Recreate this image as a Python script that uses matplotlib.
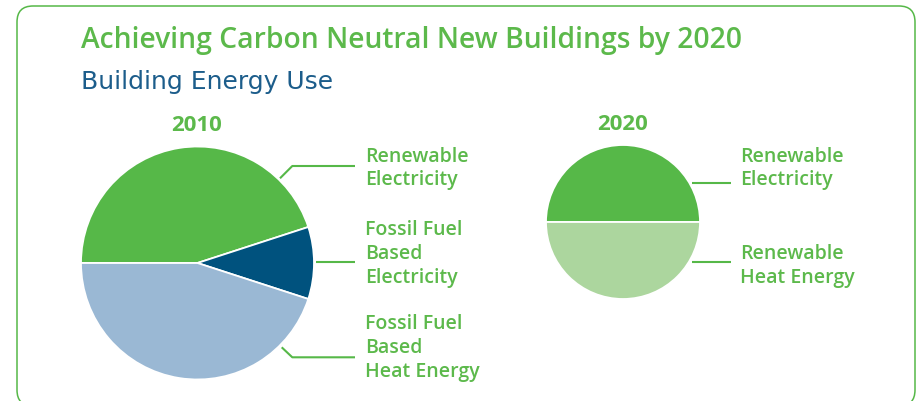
import matplotlib
matplotlib.use("Agg")
import matplotlib.pyplot as plt
from matplotlib.patches import FancyBboxPatch

# ---- data ----
title = "Achieving Carbon Neutral New Buildings by 2020"
subtitle = "Building Energy Use"
years = ["2010", "2020"]
labels_2010 = ["Renewable\nElectricity", "Fossil Fuel\nBased\nElectricity", "Fossil Fuel\nBased\nHeat Energy"]
values_2010 = [45, 10, 45]
labels_2020 = ["Renewable\nElectricity", "Renewable\nHeat Energy"]
values_2020 = [50, 50]

GREEN = "#56b848"
TEXT_GREEN = "#5cb94b"
DARK_BLUE = "#00527e"
LIGHT_BLUE = "#9ab8d4"
LIGHT_GREEN = "#acd69e"
SUB_BLUE = "#1c5d8b"
colors_2010 = [GREEN, DARK_BLUE, LIGHT_BLUE]
colors_2020 = [GREEN, LIGHT_GREEN]

W, H = 920, 401
FONT = "Open Sans"
WIDE = "DejaVu Sans"

fig = plt.figure(figsize=(W / 100, H / 100), dpi=100)
ax = fig.add_axes([0, 0, 1, 1])

def Y(y):  # pixel-from-top -> data
    return H - y

ax.pie(values_2010, colors=colors_2010, startangle=180, counterclock=False,
       center=(197.5, Y(263)), radius=116.5,
       wedgeprops=dict(edgecolor="white", linewidth=1.3))
ax.pie(values_2020, colors=colors_2020, startangle=180, counterclock=False,
       center=(623, Y(222)), radius=77,
       wedgeprops=dict(edgecolor="white", linewidth=1.3))

ax.set_xlim(0, W)
ax.set_ylim(0, H)
ax.set_aspect("auto")
ax.axis("off")

# border (bottom edge runs just past the image)
box = FancyBboxPatch((17, Y(406)), 915 - 17, 406 - 6,
                     boxstyle="round,pad=0,rounding_size=16",
                     fill=False, edgecolor=GREEN, linewidth=1.1, clip_on=False)
ax.add_patch(box)

# titles
ax.text(81, Y(47.7), title, color=TEXT_GREEN, fontsize=20.3, fontweight="semibold",
        family=FONT, va="baseline", ha="left")
ax.text(81, Y(89.5), subtitle, color=SUB_BLUE, fontsize=18,
        family=WIDE, va="baseline", ha="left")
ax.text(197, Y(131), years[0], color=TEXT_GREEN, fontsize=16, fontweight="bold",
        family=FONT, va="baseline", ha="center")
ax.text(622.5, Y(129.5), years[1], color=TEXT_GREEN, fontsize=16, fontweight="bold",
        family=FONT, va="baseline", ha="center")

LS = 23.8
def label(x, y0, txt):
    for i, line in enumerate(txt.split("\n")):
        ax.text(x, Y(y0 + i * LS), line, color=TEXT_GREEN, fontsize=14.0,
                fontweight="semibold", family=FONT, va="baseline", ha="left")

label(365, 161.5, labels_2010[0])
label(365, 235, labels_2010[1])
label(365, 329.3, labels_2010[2])
label(740.5, 161.5, labels_2020[0])
label(740.5, 259, labels_2020[1])

# leader lines
lw = 1.5
def lead(xs, ys):
    ax.plot(xs, [Y(v) for v in ys], color=GREEN, linewidth=lw, solid_capstyle="butt")

lead([280, 292.3, 355], [178.3, 166, 166])
lead([316, 355], [261.7, 261.7])
lead([281.7, 292.3, 355], [347.3, 357.3, 357.3])
lead([691.7, 731], [182.7, 182.7])
lead([691.7, 731], [261.7, 261.7])

fig.savefig("out.png", dpi=100)
